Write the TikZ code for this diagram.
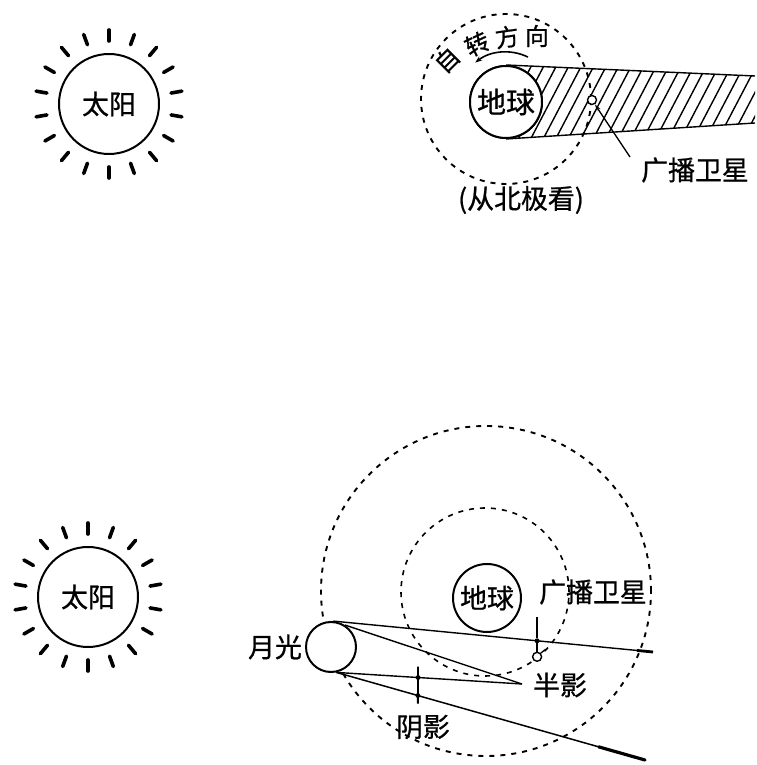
\documentclass[tikz,border=0pt]{standalone}
\usepackage{fontspec}
\setmainfont{Noto Sans CJK SC}[FakeBold=0.8]
\usetikzlibrary{calc,arrows.meta}
\begin{document}
\begin{tikzpicture}[x=1bp,y=1bp,
  body/.style={circle,draw,line width=2bp,fill=white,inner sep=0pt},
  ray/.style={line width=3.6bp,line cap=round},
  orbit/.style={line width=1.9bp,dash pattern=on 5bp off 6bp},
  beam/.style={line width=1.4bp},
  hatch/.style={line width=1.4bp},
  lbl/.style={font=\fontsize{27}{27}\selectfont,inner sep=0pt},
  biglbl/.style={font=\fontsize{29}{29}\selectfont},
  rotlbl/.style={font=\fontsize{24}{24}\selectfont,inner sep=0pt},
  sat/.style={circle,draw,line width=1.4bp,fill=white,minimum size=9bp,inner sep=0pt},
  dotc/.style={circle,fill,minimum size=5bp,inner sep=0pt},
]
\useasboundingbox (0,0) rectangle (757,765);

% ---------- upper panel: satellite in the Earth's shadow ----------
\node[body,lbl,minimum size=100bp] (sunA) at (109,661) {太阳};
\foreach \a in {10,30,...,350} \draw[ray] (sunA.center) ++(\a:63) -- ++(\a:11);

\draw[orbit] (506,666) circle[radius=85];

\node[body,biglbl,inner sep=0pt,minimum size=72bp] (earthA) at (506,663) {};
\coordinate (bandTR) at (755,689);
\coordinate (bandBR) at (755,642);
\begin{scope}
  \clip (earthA.north) -- (bandTR) -- (bandBR) -- (earthA.south) -- cycle;
  \foreach \x in {490,502.5,...,770} \draw[hatch] (\x,620) -- ++(45,86);
\end{scope}
\draw[beam] (earthA.north) -- (bandTR);
\draw[beam] (earthA.south) -- (bandBR);
\node[body,biglbl,inner sep=0pt,minimum size=72bp] (earthA) at (506,663) {地球};

\node[sat] (satA) at (592,665) {};
\node[lbl] (satlblA) at (695,595) {广播卫星};
\coordinate (leadA) at (630,608);
\draw[line width=1.3bp,-{Stealth[length=7bp,width=4bp]}] (leadA) -- (satA);

% rotation direction, seen from the north pole
\node[rotlbl,rotate=45] (rotA) at (447,705) {自};
\node[rotlbl,rotate=25] (rotB) at (477,721) {转};
\node[rotlbl,rotate=8] (rotC) at (507,728) {方};
\node[rotlbl] (rotD) at (537,729) {向};
\draw[line width=1.6bp,-{Stealth[length=7bp,width=5bp]}]
  (earthA.center) ++(64:50) arc[start angle=64,end angle=128,radius=50];
\node[lbl] (note) at (521,565) {(从北极看)};

% ---------- lower panel: satellite in the Moon's shadow ----------
\node[body,lbl,minimum size=100bp] (sunB) at (88,168) {太阳};
\foreach \a in {10,30,...,350} \draw[ray] (sunB.center) ++(\a:63) -- ++(\a:11);

\draw[orbit] (486,174) circle[radius=165];
\draw[orbit,line width=1.6bp] (485,173) circle[radius=84];

\node[body,lbl,minimum size=68bp] (earthB) at (487,167) {地球};
\node[body,minimum size=50bp] (moon) at (331,118) {};
\node[lbl] (moonlbl) at (275,118) {月光};

\coordinate (beamEnd) at (653,113);
\coordinate (apex) at (522,81);
\coordinate (lowEnd) at (645,5);

\draw[beam] (moon.85) -- (beamEnd);
\draw[line width=2.8bp] ($(moon.85)!0.95!(beamEnd)$) -- (beamEnd);
\draw[beam] (moon.58) -- (apex);
\draw[beam] (moon.-78) -- (apex);
\draw[line width=1.5bp] (moon.-78) -- (lowEnd);
\draw[line width=3.2bp,line cap=round] ($(moon.-78)!0.85!(lowEnd)$) -- (lowEnd);

% umbra marker
\coordinate (d3) at ($(moon.-78)!0.44!(apex)$);
\coordinate (d4) at ($(moon.-78)!0.264!(lowEnd)$);
\coordinate (u1) at ($(d3)+(0,11)$);
\coordinate (u2) at ($(d4)+(0,-8)$);
\draw[line width=1.8bp] (u1) -- (d3) -- (d4) -- (u2);
\fill (d3) circle[radius=2.4bp];
\fill (d4) circle[radius=2.4bp];

% broadcast satellite on the beam
\coordinate (satpt) at ($(moon.85)!0.6375!(beamEnd)$);
\node[dotc] (satdot) at (satpt) {};
\coordinate (stalk) at ($(satpt)+(0,24)$);
\draw[line width=1.3bp] (stalk) -- (satdot);
\node[sat] (satB) at ($(satpt)+(0,-16)$) {};
\draw[line width=1.3bp] (satdot) -- (satB);
\coordinate (panel) at ($(satB.45)+(5,4)$);
\draw[line width=1.3bp] (satB.45) -- (panel);

\node[lbl] (satlblB) at (593,173) {广播卫星};
\node[lbl] (penlbl) at (560,80) {半影};
\node[lbl] (umblbl) at (423,38) {阴影};
\end{tikzpicture}
\end{document}
